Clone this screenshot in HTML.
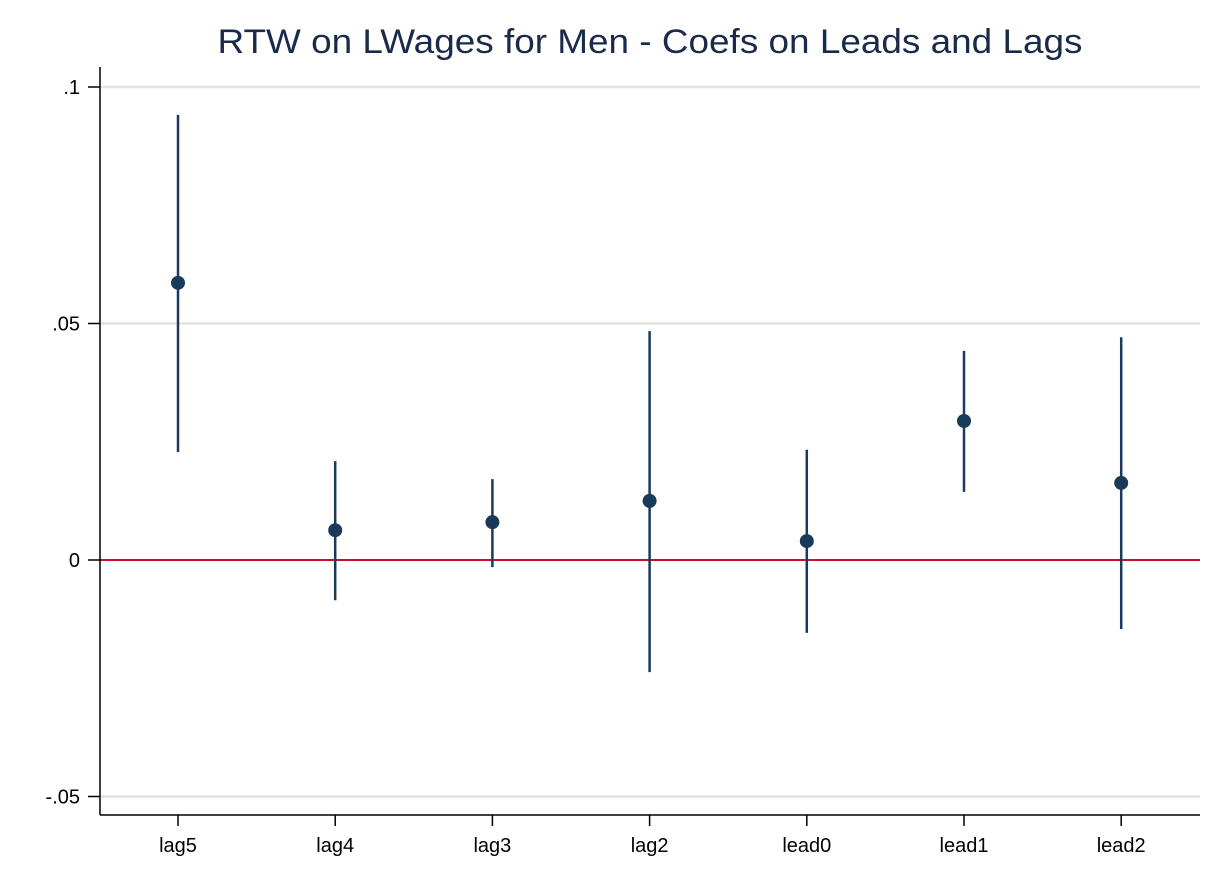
<!DOCTYPE html>
<html><head><meta charset="utf-8"><style>
html,body{margin:0;padding:0;background:#fff;}
svg{display:block;font-family:"Liberation Sans",Arial,sans-serif;}
</style></head><body>
<svg id="chart" width="1221" height="888" viewBox="0 0 1221 888">
<rect width="1221" height="888" fill="#fff"/>
<text x="650" y="53" text-anchor="middle" font-size="34" textLength="865" lengthAdjust="spacingAndGlyphs" fill="#1a2a4a">RTW on LWages for Men - Coefs on Leads and Lags</text>
<g id="grid"></g>
<g id="axes"></g>
<g id="marks"></g>
</svg>
<script>
const categories = ["lag5","lag4","lag3","lag2","lead0","lead1","lead2"];
const coefs = [0.0586,0.0063,0.0080,0.0125,0.0040,0.0294,0.0163];
const ciLow = [0.0228,-0.0085,-0.0015,-0.0237,-0.0154,0.0144,-0.0146];
const ciHigh = [0.0941,0.0209,0.0171,0.0484,0.0233,0.0442,0.0471];
const yTicks = [0.1,0.05,0,-0.05];
const yTickLabels = [".1",".05","0","-.05"];

const NS="http://www.w3.org/2000/svg";
const plotL=100, plotR=1200, plotB=815, plotT=67;
function y(v){return 560 - v*4730;}
function x(i){return 178 + i*157.2;}
function mk(tag,attrs,parent){const e=document.createElementNS(NS,tag);for(const k in attrs)e.setAttribute(k,attrs[k]);parent.appendChild(e);return e;}
const grid=document.getElementById('grid'),axes=document.getElementById('axes'),marks=document.getElementById('marks');

yTicks.forEach((t,i)=>{
  if(t!==0){
    const g=mk('line',{x1:plotL,x2:plotR,y1:y(t),y2:y(t),stroke:'#e4e4e4','stroke-width':2.5},grid);
    
    
  }
  const tk=mk('line',{x1:88,x2:plotL,y1:y(t),y2:y(t),stroke:'#000','stroke-width':1.5},axes);
  
  
  const lb=mk('text',{x:80,y:y(t)+7,'text-anchor':'end','font-size':20,fill:'#000'},axes);
  lb.textContent=yTickLabels[i];
  
  
});
const zl=mk('line',{x1:plotL,x2:plotR,y1:y(0),y2:y(0),stroke:'#c8102e','stroke-width':2},grid);



const ya=mk('line',{x1:plotL,x2:plotL,y1:plotT,y2:plotB,stroke:'#000','stroke-width':1.5},axes);


const xa=mk('line',{x1:plotL,x2:plotR,y1:plotB,y2:plotB,stroke:'#000','stroke-width':1.5},axes);



categories.forEach((c,i)=>{
  const tk=mk('line',{x1:x(i),x2:x(i),y1:plotB,y2:plotB+11,stroke:'#000','stroke-width':1.5},axes);
  
  
  const lb=mk('text',{x:x(i),y:plotB+37,'text-anchor':'middle','font-size':20,fill:'#000'},axes);
  lb.textContent=c;
  
  
  const ci=mk('line',{x1:x(i),x2:x(i),y1:y(ciHigh[i]),y2:y(ciLow[i]),stroke:'#1a3a5c','stroke-width':2.5},marks);
  
  
  const pt=mk('circle',{cx:x(i),cy:y(coefs[i]),r:7,fill:'#1a3a5c'},marks);
  
  
});
</script>
</body></html>
